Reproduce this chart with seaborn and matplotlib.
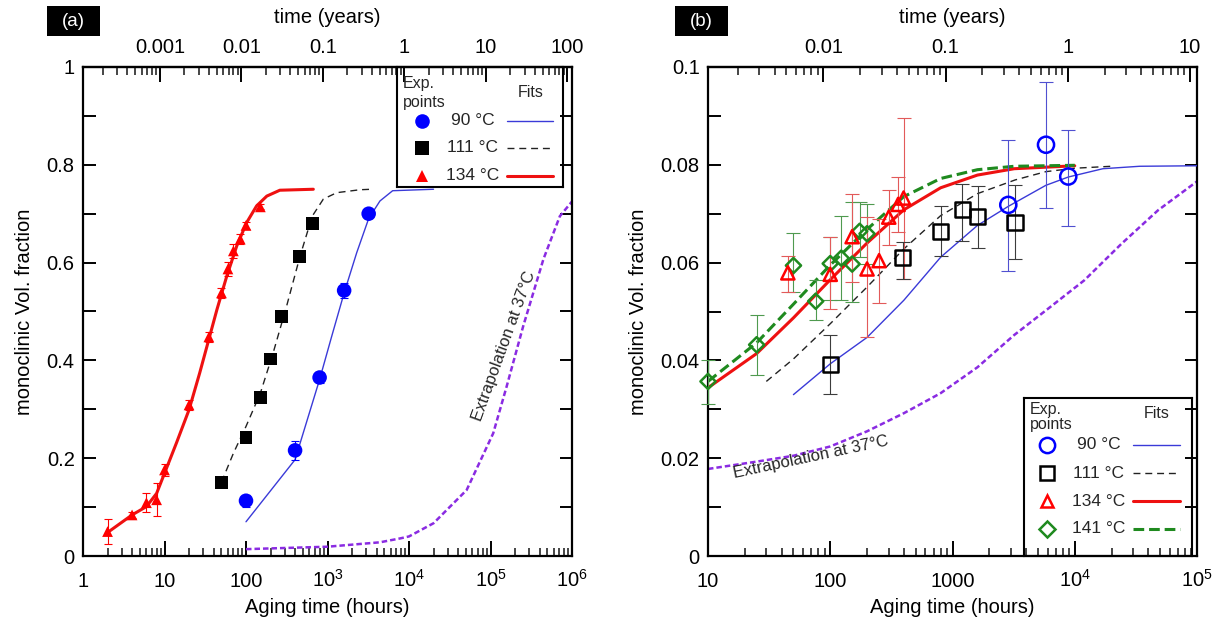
import numpy as np
import matplotlib
matplotlib.use('Agg')
import matplotlib.pyplot as plt
import seaborn as sns
from matplotlib.ticker import FixedLocator, LogLocator, NullFormatter, MultipleLocator
from matplotlib.patches import Rectangle

sns.set_theme(style='ticks')
plt.rcParams['font.family'] = ['Liberation Sans', 'DejaVu Sans']
plt.rcParams['mathtext.fontset'] = 'custom'
plt.rcParams['mathtext.rm'] = 'Liberation Sans'
plt.rcParams['mathtext.it'] = 'Liberation Sans:italic'
plt.rcParams['mathtext.bf'] = 'Liberation Sans:bold'
plt.rcParams['axes.unicode_minus'] = False

HOURS_PER_YEAR = 8766.0

# ---------------- Panel (a) data ----------------
a_134_h = [2, 4, 6, 8, 10, 20, 35, 50, 60, 70, 85, 100, 150]
a_134_y = [0.050, 0.084, 0.109, 0.115, 0.176, 0.309, 0.448, 0.538, 0.587, 0.624, 0.648, 0.676, 0.714]
a_134_err = [0.025, 0.006, 0.02, 0.034, 0.012, 0.01, 0.01, 0.01, 0.014, 0.014, 0.01, 0.008, 0.005]

a_111_h = [50, 100, 150, 200, 275, 450, 650]
a_111_y = [0.151, 0.242, 0.324, 0.403, 0.490, 0.613, 0.680]

a_90_h = [100, 400, 800, 1600, 3200]
a_90_y = [0.113, 0.216, 0.365, 0.543, 0.700]
a_90_err = [0.012, 0.02, 0.012, 0.016, 0.005]

a_fit134_h = [2, 4, 6, 8, 10, 14, 20, 27, 35, 44, 58, 77, 102, 135, 180, 260, 670]
a_fit134_y = [0.048, 0.084, 0.101, 0.128, 0.169, 0.231, 0.299, 0.374, 0.443, 0.504, 0.572,
              0.634, 0.682, 0.716, 0.736, 0.748, 0.750]
a_fit111_h = [50, 70, 100, 150, 215, 315, 460, 650, 890, 1300, 2500, 3500]
a_fit111_y = [0.151, 0.210, 0.265, 0.333, 0.415, 0.511, 0.613, 0.695, 0.730, 0.743, 0.749, 0.750]
a_fit90_h = [100, 400, 800, 1125, 1600, 2280, 3200, 4400, 6300, 20000]
a_fit90_y = [0.070, 0.197, 0.361, 0.449, 0.538, 0.620, 0.690, 0.726, 0.747, 0.750]
a_ext37_h = [100, 1000, 4400, 7800, 10000, 20000, 51000, 108000, 158000, 252000, 446000, 710000, 1000000]
a_ext37_y = [0.014, 0.019, 0.028, 0.036, 0.040, 0.067, 0.135, 0.251, 0.347, 0.470, 0.607, 0.695, 0.725]

# ---------------- Panel (b) data ----------------
b_141_h = [10, 25, 50, 76, 100, 123, 151, 174, 200]
b_141_y = [0.0357, 0.0432, 0.0594, 0.0521, 0.0598, 0.0609, 0.0597, 0.0664, 0.0659]
b_141_lo = [0.0310, 0.0370, 0.0540, 0.0482, 0.0523, 0.0523, 0.0519, 0.0611, 0.0598]
b_141_hi = [0.0400, 0.0493, 0.0661, 0.0564, 0.0652, 0.0696, 0.0724, 0.0724, 0.0719]

b_134_h = [45, 100, 151, 200, 251, 301, 359, 398]
b_134_y = [0.0579, 0.0576, 0.0653, 0.0587, 0.0604, 0.0693, 0.0719, 0.0732]
b_134_lo = [0.0540, 0.0506, 0.0560, 0.0448, 0.0517, 0.0635, 0.0662, 0.0567]
b_134_hi = [0.0614, 0.0652, 0.0741, 0.0693, 0.0690, 0.0749, 0.0775, 0.0895]

b_111_h = [100, 392, 800, 1200, 1607, 3245]
b_111_y = [0.0391, 0.0610, 0.0664, 0.0709, 0.0694, 0.0682]
b_111_lo = [0.0332, 0.0567, 0.0613, 0.0645, 0.0630, 0.0608]
b_111_hi = [0.0451, 0.0642, 0.0715, 0.0761, 0.0756, 0.0758]

b_90_h = [2860, 5820, 8850]
b_90_y = [0.0718, 0.0841, 0.0776]
b_90_lo = [0.0582, 0.0712, 0.0675]
b_90_hi = [0.0851, 0.0969, 0.0872]

b_fit141_h = [10, 25, 50, 100, 200, 400, 800, 1600, 3200, 10000]
b_fit141_y = [0.0357, 0.0436, 0.0515, 0.0595, 0.0668, 0.0735, 0.0772, 0.0790, 0.0797, 0.0799]
b_fit134_h = [10, 25, 50, 100, 200, 400, 800, 1600, 3200, 10000]
b_fit134_y = [0.0344, 0.0414, 0.0487, 0.0565, 0.0640, 0.0708, 0.0753, 0.0779, 0.0792, 0.0798]
b_fit111_h = [30, 50, 100, 200, 400, 800, 1600, 3250, 5800, 10000, 20000]
b_fit111_y = [0.0357, 0.0403, 0.0475, 0.0550, 0.0628, 0.0696, 0.0741, 0.0769, 0.0786, 0.0793, 0.0797]
b_fit90_h = [50, 100, 200, 400, 800, 1600, 2860, 5800, 8850, 17000, 34000, 100000]
b_fit90_y = [0.0330, 0.0393, 0.0447, 0.0523, 0.0611, 0.0676, 0.0715, 0.0758, 0.0775, 0.0792, 0.0797, 0.0798]
b_ext37_h = [10, 25, 50, 100, 200, 400, 800, 1600, 3200, 6000, 12000, 24000, 48000, 100000]
b_ext37_y = [0.0178, 0.0193, 0.0205, 0.0224, 0.0255, 0.0292, 0.0333, 0.0386, 0.0452, 0.0505,
             0.0564, 0.0638, 0.0707, 0.0766]

# ---------------- Axis texts ----------------
a_xticks = [1, 10, 100, 1e3, 1e4, 1e5, 1e6]
a_xticklabels = ['1', '10', '100', r'$10^3$', r'$10^4$', r'$10^5$', r'$10^6$']
a_topticks = [0.001, 0.01, 0.1, 1, 10, 100]
a_toplabels = ['0.001', '0.01', '0.1', '1', '10', '100']
a_yticks = [0, 0.2, 0.4, 0.6, 0.8, 1.0]
a_yticklabels = ['0', '0.2', '0.4', '0.6', '0.8', '1']

b_xticks = [10, 100, 1000, 1e4, 1e5]
b_xticklabels = ['10', '100', '1000', r'$10^4$', r'$10^5$']
b_topticks = [0.01, 0.1, 1, 10]
b_toplabels = ['0.01', '0.1', '1', '10']
b_yticks = [0, 0.02, 0.04, 0.06, 0.08, 0.1]
b_yticklabels = ['0', '0.02', '0.04', '0.06', '0.08', '0.1']

temps = ['90', '111', '134', '141']
xlabel = 'Aging time (hours)'
ylabel = 'monoclinic Vol. fraction'
toplabel = 'time (years)'
ext_label = 'Extrapolation at 37°C'

# styles
ST = {
    '90': dict(color='#0000ff', line='#3a3ad8', lw=1.0, ls='-', marker='o'),
    '111': dict(color='#000000', line='#222222', lw=1.0, ls=(0, (5, 3.5)), marker='s'),
    '134': dict(color='#ff0000', line='#ee1111', lw=2.2, ls='-', marker='^'),
    '141': dict(color='#1f8a1f', line='#1f8a1f', lw=2.2, ls=(0, (3.5, 1.6)), marker='D'),
}
PURPLE = '#8a2be2'

W, H = 1225, 621
fig = plt.figure(figsize=(W / 100, H / 100), dpi=100)
axA = fig.add_axes([83 / W, 1 - 556 / H, 489 / W, 489 / H])
axB = fig.add_axes([708 / W, 1 - 556 / H, 489 / W, 489 / H])

TICK_FS = 14.5
LABEL_FS = 14.5


def style_axes(ax, xlim, xticks, xticklabels, ylim, yticks, yticklabels, yminor,
               topticks, toplabels):
    ax.set_xscale('log')
    ax.set_xlim(*xlim)
    ax.set_ylim(*ylim)
    ax.xaxis.set_major_locator(FixedLocator(xticks))
    ax.set_xticklabels(xticklabels)
    ax.xaxis.set_minor_locator(LogLocator(base=10, subs=np.arange(2, 10), numticks=50))
    ax.xaxis.set_minor_formatter(NullFormatter())
    ax.set_yticks(yticks)
    ax.set_yticklabels(yticklabels)
    ax.yaxis.set_minor_locator(MultipleLocator(yminor))
    for s in ax.spines.values():
        s.set_linewidth(1.6)
        s.set_color('black')
    ax.tick_params(axis='x', which='major', direction='in', length=11, width=1.4,
                   top=False, bottom=True, labelsize=TICK_FS, pad=22.5, colors='black')
    ax.tick_params(axis='x', which='minor', direction='in', length=5.5, width=1.2,
                   top=False, bottom=True)
    ax.tick_params(axis='y', which='both', direction='in', length=9, width=1.4,
                   left=True, right=True, labelsize=TICK_FS, pad=6, colors='black')
    for lab in ax.get_xticklabels():
        lab.set_verticalalignment('baseline')
    ax.set_xlabel(xlabel, fontsize=LABEL_FS, labelpad=5, color='black')
    ax.set_ylabel(ylabel, fontsize=LABEL_FS, labelpad=9, color='black')
    ax.grid(False)
    ax.set_facecolor('white')

    sec = ax.secondary_xaxis('top', functions=(lambda h: h / HOURS_PER_YEAR,
                                               lambda y: y * HOURS_PER_YEAR))
    sec.set_xticks(topticks, labels=toplabels)
    sec.xaxis.set_minor_locator(LogLocator(base=10, subs=np.arange(2, 10), numticks=50))
    sec.xaxis.set_minor_formatter(NullFormatter())
    sec.tick_params(axis='x', which='major', direction='in', length=11, width=1.4,
                    labelsize=TICK_FS, pad=7, colors='black')
    sec.tick_params(axis='x', which='minor', direction='in', length=5.5, width=1.2)
    sec.spines['top'].set_linewidth(1.6)
    sec.set_xlabel(toplabel, fontsize=LABEL_FS, labelpad=11, color='black')
    return sec


def fit_line(ax, h, y, st, z=3):
    sns.lineplot(x=h, y=y, ax=ax, color=st['line'], linewidth=st['lw'],
                 linestyle=st['ls'], estimator=None, sort=False, legend=False, zorder=z)


def add_legend(ax, rect, rows, filled, row_y, head_y, mx, tx, lx0, lx1, msz):
    lg = ax.inset_axes(rect)
    lg.set_xlim(0, 1)
    lg.set_ylim(0, 1)
    lg.set_xticks([])
    lg.set_yticks([])
    lg.patch.set_alpha(0)
    for s in lg.spines.values():
        s.set_linewidth(1.5)
        s.set_color('black')
    lg.text(0.035, head_y[0], 'Exp.', fontsize=11.5, ha='left', va='center')
    lg.text(0.035, head_y[1], 'points', fontsize=11.5, ha='left', va='center')
    lg.text((lx0 + lx1) / 2, head_y[2], 'Fits', fontsize=11.5, ha='center', va='center')
    for t, y in zip(rows, row_y):
        st = ST[t]
        m = msz[t]
        lg.plot([mx], [y], linestyle='none', marker=st['marker'], markersize=m,
                markerfacecolor=st['color'] if filled else 'none',
                markeredgecolor=st['color'], markeredgewidth=0 if filled else 1.8)
        lg.text(tx, y, f'{t} °C', fontsize=12.5, ha='center', va='center')
        lg.plot([lx0, lx1], [y, y], color=st['line'], linewidth=st['lw'], linestyle=st['ls'])
    return lg


# ---------------- Panel (a) ----------------
style_axes(axA, (1, 1e6), a_xticks, a_xticklabels, (0, 1), a_yticks, a_yticklabels, 0.1,
           a_topticks, a_toplabels)

fit_line(axA, a_fit134_h, a_fit134_y, ST['134'])
fit_line(axA, a_fit111_h, a_fit111_y, ST['111'])
fit_line(axA, a_fit90_h, a_fit90_y, ST['90'])
sns.lineplot(x=a_ext37_h, y=a_ext37_y, ax=axA, color=PURPLE, linewidth=1.8,
             linestyle=(0, (2.2, 1.2)), estimator=None, sort=False, legend=False)

axA.errorbar(a_134_h, a_134_y, yerr=a_134_err, fmt='none', ecolor=ST['134']['color'],
             elinewidth=0.8, capsize=3, capthick=0.8, zorder=4)
axA.errorbar(a_90_h, a_90_y, yerr=a_90_err, fmt='none', ecolor=ST['90']['color'],
             elinewidth=0.8, capsize=3, capthick=0.8, zorder=4)

sns.scatterplot(x=a_134_h, y=a_134_y, ax=axA, marker='^', s=60, color=ST['134']['color'],
                edgecolor='none', linewidth=0, zorder=5, legend=False, clip_on=False)
sns.scatterplot(x=a_111_h, y=a_111_y, ax=axA, marker='s', s=85, color=ST['111']['color'],
                edgecolor='none', linewidth=0, zorder=5, legend=False)
sns.scatterplot(x=a_90_h, y=a_90_y, ax=axA, marker='o', s=110, color=ST['90']['color'],
                edgecolor='none', linewidth=0, zorder=5, legend=False)

axA.text(1.45e5, 0.43, ext_label, rotation=70, fontsize=12, ha='center', va='center',
         rotation_mode='anchor')

add_legend(axA, [0.642, 0.755, 0.340, 0.245], ['90', '111', '134'], True,
           row_y=[0.55, 0.325, 0.092], head_y=[0.86, 0.70, 0.79],
           mx=0.15, tx=0.456, lx0=0.663, lx1=0.94,
           msz={'90': 10.5, '111': 9.5, '134': 8.5})

# ---------------- Panel (b) ----------------
style_axes(axB, (10, 1e5), b_xticks, b_xticklabels, (0, 0.1), b_yticks, b_yticklabels, 0.01,
           b_topticks, b_toplabels)

fit_line(axB, b_fit90_h, b_fit90_y, ST['90'])
fit_line(axB, b_fit111_h, b_fit111_y, ST['111'])
fit_line(axB, b_fit134_h, b_fit134_y, ST['134'])
fit_line(axB, b_fit141_h, b_fit141_y, ST['141'])
sns.lineplot(x=b_ext37_h, y=b_ext37_y, ax=axB, color=PURPLE, linewidth=1.8,
             linestyle=(0, (2.2, 1.2)), estimator=None, sort=False, legend=False)

err_cols = {'141': '#4f9a4f', '134': '#e25a5a', '111': '#3c3c3c', '90': '#5050d0'}
b_sets = [
    ('141', b_141_h, b_141_y, b_141_lo, b_141_hi, 60),
    ('134', b_134_h, b_134_y, b_134_lo, b_134_hi, 90),
    ('111', b_111_h, b_111_y, b_111_lo, b_111_hi, 120),
    ('90', b_90_h, b_90_y, b_90_lo, b_90_hi, 135),
]
for t, h, y, lo, hi, s in b_sets:
    y_arr = np.asarray(y)
    yerr = [y_arr - np.asarray(lo), np.asarray(hi) - y_arr]
    axB.errorbar(h, y, yerr=yerr, fmt='none', ecolor=err_cols[t], elinewidth=0.8,
                 capsize=5, capthick=0.8, zorder=4, clip_on=False)
for t, h, y, lo, hi, s in b_sets:
    sns.scatterplot(x=h, y=y, ax=axB, marker=ST[t]['marker'], s=s, color=ST[t]['color'],
                    facecolor='none', edgecolor=ST[t]['color'], linewidth=1.8, zorder=5,
                    legend=False, clip_on=False)

axB.text(70, 0.0203, ext_label, rotation=12, fontsize=12, ha='center', va='center',
         rotation_mode='anchor')

add_legend(axB, [0.646, 0.0, 0.344, 0.323], ['90', '111', '134', '141'], False,
           row_y=[0.703, 0.525, 0.348, 0.171], head_y=[0.93, 0.83, 0.905],
           mx=0.137, tx=0.446, lx0=0.649, lx1=0.929,
           msz={'90': 11, '111': 9.5, '134': 9, '141': 8})

# ---------------- Panel tags ----------------
for (x0, lab) in [(47, '(a)'), (675, '(b)')]:
    fig.patches.append(Rectangle((x0 / W, 1 - 36 / H), 53 / W, 30 / H,
                                 transform=fig.transFigure, facecolor='black',
                                 edgecolor='none'))
    fig.text((x0 + 26.5) / W, 1 - 21 / H, lab, color='white', fontsize=13.5,
             ha='center', va='center')

fig.savefig('out.png', dpi=100, facecolor='white')
